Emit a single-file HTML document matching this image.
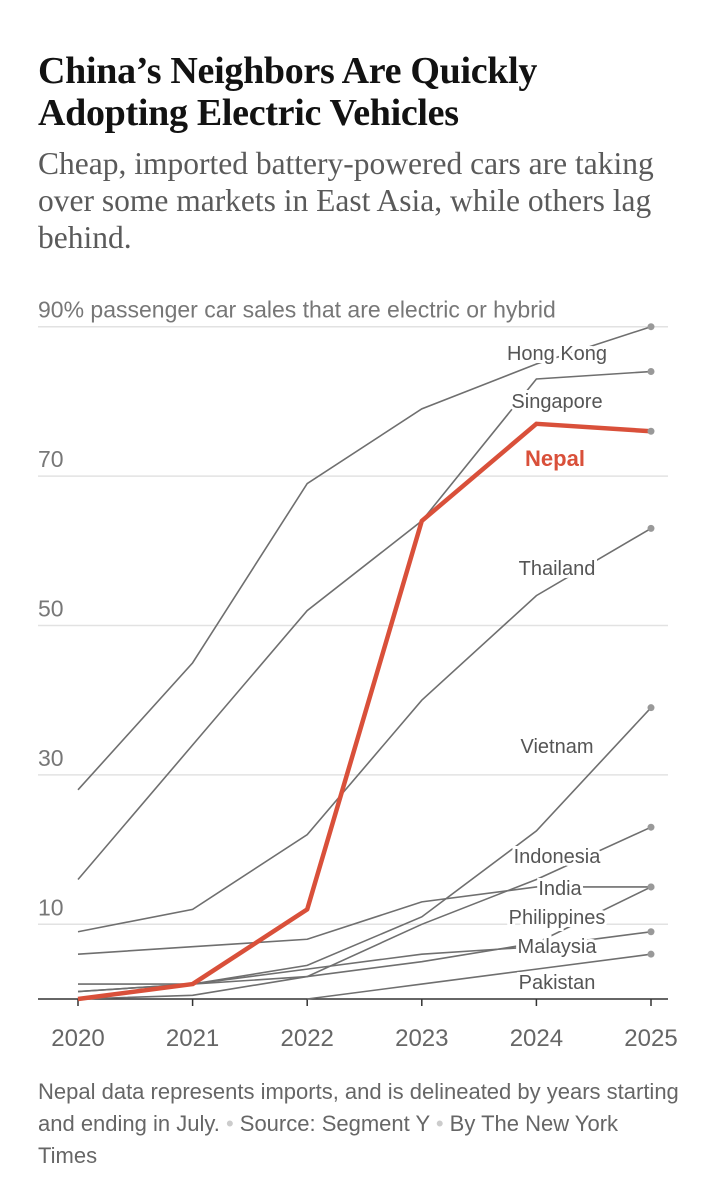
<!DOCTYPE html>
<html><head><meta charset="utf-8"><style>
body{margin:0;width:720px;height:1200px;background:#fff;overflow:hidden;font-family:"Liberation Sans",sans-serif}
h1{position:absolute;left:38px;top:50px;margin:0;font:bold 38px/42px "Liberation Serif",serif;color:#121212;letter-spacing:-0.3px;white-space:nowrap}
.sub{position:absolute;left:38px;top:145px;width:650px;font:31.5px/37px "Liberation Serif",serif;color:#5a5a5a}
.foot{position:absolute;left:38px;top:1076px;width:642px;font:22px/32px "Liberation Sans",sans-serif;color:#666}
svg{position:absolute;left:0;top:0}
</style></head><body>
<h1>China’s Neighbors Are Quickly<br>Adopting Electric Vehicles</h1>
<div class="sub">Cheap, imported battery-powered cars are taking over some markets in East Asia, while others lag behind.</div>
<svg id="c" width="720" height="1200"></svg>
<div class="foot">Nepal data represents imports, and is delineated by years starting and ending in July. <span style="color:#ccc">•</span> Source: Segment Y <span style="color:#ccc">•</span> By The New York Times</div>
<script>
const years=[2020,2021,2022,2023,2024,2025];
const yTicks=[10,30,50,70,90];
const hongKong=[28,45,69,79,85,90];
const singapore=[16,34,52,64,83,84];
const thailand=[9,12,22,40,54,63];
const vietnam=[1,2,4.5,11,22.5,39];
const indonesia=[0,0.5,3,10,16,23];
const india=[6,7,8,13,15,15];
const philippines=[2,2,3,5,7.5,15];
const malaysia=[1,2,4,6,7,9];
const pakistan=[null,null,0,2,4,6];
const nepal=[0,2,12,64,77,76];
const series=[
 {name:'Hong Kong',v:hongKong,lx:557,ly:353},
 {name:'Singapore',v:singapore,lx:557,ly:401},
 {name:'Thailand',v:thailand,lx:557,ly:568},
 {name:'Vietnam',v:vietnam,lx:557,ly:746},
 {name:'Indonesia',v:indonesia,lx:557,ly:856},
 {name:'India',v:india,lx:560,ly:888},
 {name:'Philippines',v:philippines,lx:557,ly:917},
 {name:'Malaysia',v:malaysia,lx:557,ly:946},
 {name:'Pakistan',v:pakistan,lx:557,ly:982}];
const X=y=>78+(y-2020)*114.6, Y=v=>999-v*7.47;
const svg=document.getElementById('c'),NS='http://www.w3.org/2000/svg';
function mk(t,a,p){const e=document.createElementNS(NS,t);for(const k in a)e.setAttribute(k,a[k]);(p||svg).appendChild(e);return e;}
yTicks.forEach(t=>{
 const l=mk('line',{x1:38,x2:668,y1:Y(t),y2:Y(t),stroke:'#e2e2e2','stroke-width':1.5});
 
 
 const tx=mk('text',{x:38,y:Y(t)-9,'font-size':23,fill:'#777'});
 tx.textContent=t===90?'90% passenger car sales that are electric or hybrid':t;
 
 
});
const ax=mk('line',{x1:38,x2:668,y1:Y(0),y2:Y(0),stroke:'#333','stroke-width':1.5});


years.forEach(y=>{
 const tk=mk('line',{x1:X(y),x2:X(y),y1:Y(0),y2:Y(0)+7,stroke:'#333','stroke-width':1.5});
 
 
 const t=mk('text',{x:X(y),y:1046,'font-size':24,fill:'#666','text-anchor':'middle'});
 t.textContent=y;
 
 
});
function pts(v){return v.map((d,i)=>d==null?null:X(years[i])+','+Y(d)).filter(Boolean).join(' ');}
series.forEach(s=>{
 const p=mk('polyline',{points:pts(s.v),fill:'none',stroke:'#6f6f6f','stroke-width':1.6});
 
 
 const c=mk('circle',{cx:X(2025),cy:Y(s.v[5]),r:3.5,fill:'#999'});
 
 
});
const np=mk('polyline',{points:pts(nepal),fill:'none',stroke:'#d9503a','stroke-width':4.5,'stroke-linejoin':'round'});


const nd=mk('circle',{cx:X(2025),cy:Y(nepal[5]),r:3.5,fill:'#999'});


series.forEach(s=>{
 const t=mk('text',{x:s.lx,y:s.ly+7,'font-size':20,fill:'#555','text-anchor':'middle',stroke:'#fff','stroke-width':6,'paint-order':'stroke'});
 t.textContent=s.name;
 
 
});
const nl=mk('text',{x:555,y:466,'font-size':22,'font-weight':'bold',fill:'#d9503a','text-anchor':'middle'});
nl.textContent='Nepal';


</script>
</body></html>
